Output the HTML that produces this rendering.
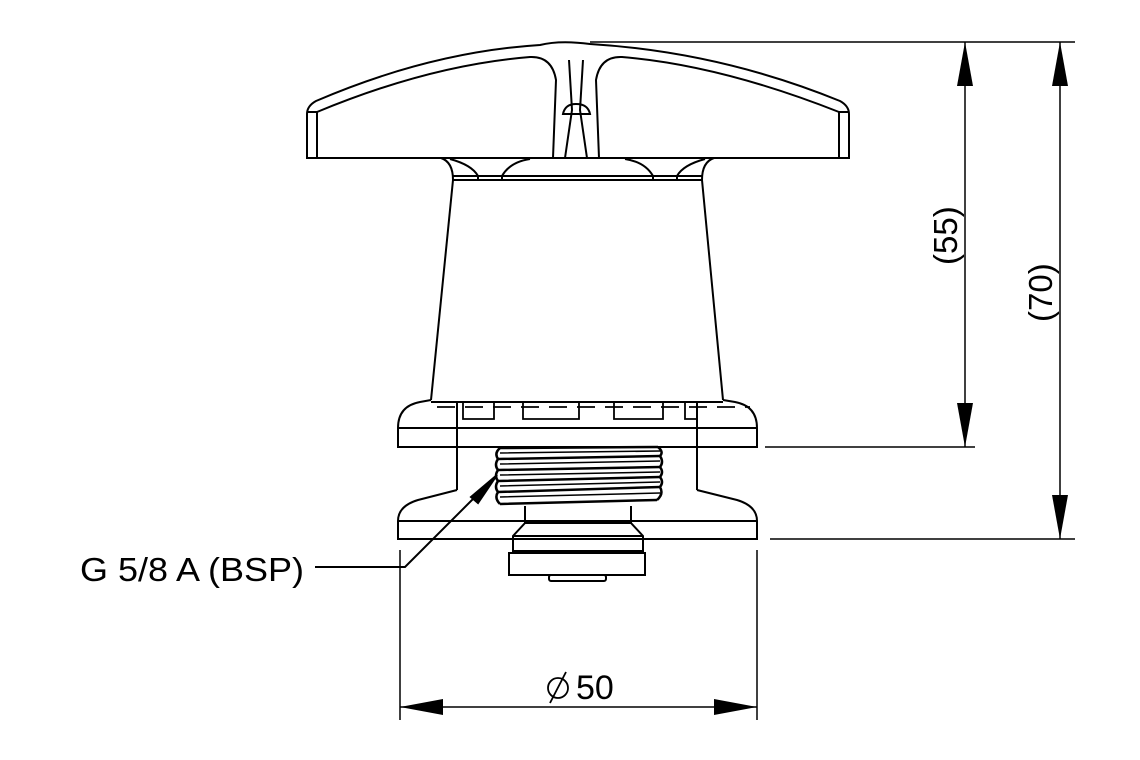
<!DOCTYPE html>
<html><head><meta charset="utf-8"><style>html,body{margin:0;padding:0;background:#fff;}svg{display:block}</style></head>
<body>
<svg width="1140" height="760" viewBox="0 0 1140 760" xmlns="http://www.w3.org/2000/svg" fill="none" stroke="#000" stroke-width="2">
<!-- knob -->
<path d="M307,158 L307,114 Q307,106 316,101 Q430,52 540,45 Q560,40 590,44 Q720,52 840,101 Q849,106 849,114 L849,158 Z" fill="#fff"/>
<path d="M317,158 L317,112 M839,158 L839,112"/>
<path d="M317,112 Q430,65 530,57 Q552,56 556,80 L553,158"/>
<path d="M839,112 Q720,65 622,57 Q600,56 596,80 L599,158"/>
<path d="M565,158 L572,110 L569,60 M587,158 L580,110 L583,60"/>
<path d="M563,114 Q565,104 576,104 Q588,104 590,114 Z"/>
<path d="M307,112 L317,112 M849,112 L839,112"/>
<!-- stem band -->
<path d="M441,158 Q453,162 453,180 L702,180 Q702,162 714,158"/>
<path d="M453,176 L702,176"/>
<path d="M450,159 Q472,165 478,176 M502,176 Q510,162 530,159 M625,159 Q645,162 653,176 M677,176 Q683,165 705,159 M478,176 L478,180 M502,176 L502,180 M653,176 L653,180 M677,176 L677,180"/>
<!-- body -->
<path d="M453,180 L431,400 M702,180 L723,400"/>
<!-- upper flange -->
<path d="M431,400 L420,402 Q398,406 398,428 L398,447 L757,447 L757,428 Q757,406 735,402 L723,400" fill="#fff"/>
<path d="M398,428 L757,428 M431,402 L723,402"/>
<path d="M463,402 L463,419 L494,419 L494,402 M523,402 L523,419 L579,419 L579,402 M614,402 L614,419 L663,419 L663,402 M685,402 L685,419 L697,419" stroke-width="1.8"/>
<path d="M437,407 L750,407 M500,428 L600,428" stroke-dasharray="18,10" stroke-width="1.8"/>
<path d="M457,402 L457,490 M697,402 L697,490"/>
<!-- lower flange -->
<path d="M457,490 L418,500 Q398,506 398,521 L398,539 L757,539 L757,521 Q757,506 737,500 L697,490"/>
<path d="M398,521 L757,521"/>
<!-- thread -->
<g stroke-width="2.5">
<path d="M500,448 L658,447 M498,459 L660,456 M498,470 L660,467 M498,481 L660,477 M498,492 L660,487 M500,504 L657,500"/>
<path d="M500,448 Q494,453 498,459 Q494,465 498,470 Q494,476 498,481 Q494,487 498,492 Q494,498 500,504 M658,447 Q664,452 660,456 Q664,462 660,467 Q664,472 660,477 Q664,482 660,487 Q664,494 657,500"/>
<path d="M500,453 L660,451 M500,464 L660,461 M500,475 L660,472 M500,486 L660,482 M500,497 L660,493" stroke-width="1.5"/>
</g>
<!-- neck / bottom -->
<path d="M525,506 L525,523 L513,536 L513,551 L643,551 L643,536 L631,523 L631,506"/>
<path d="M525,523 L631,523 M513,536 L643,536"/>
<rect x="509" y="553" width="136" height="22"/>
<rect x="549" y="575" width="57" height="6" rx="2"/>
<!-- leader -->
<path d="M315,567 L405,567 L495,477"/>
<polygon points="497,475 471,497 478,503" fill="#000"/>
<text x="80" y="581" font-family="Liberation Sans, sans-serif" font-size="33" fill="#000" stroke="none" textLength="224" lengthAdjust="spacingAndGlyphs">G 5/8 A (BSP)</text>
<!-- dims -->
<g stroke-width="1.5">
<path d="M590,42 L1075,42 M765,447 L975,447 M770,539 L1075,539 M965,42 L965,447 M1060,42 L1060,539"/>
<path d="M400,550 L400,720 M757,550 L757,720 M400,707 L757,707"/>
</g>
<g fill="#000" stroke="none">
<polygon points="965,42 957,86 973,86"/><polygon points="965,447 957,403 973,403"/>
<polygon points="1060,42 1052,86 1068,86"/><polygon points="1060,539 1052,495 1068,495"/>
<polygon points="400,707 443,699 443,715"/><polygon points="757,707 714,699 714,715"/>
</g>
<g font-family="Liberation Sans, sans-serif" font-size="33" fill="#000" stroke="none">
<text transform="translate(957,265) rotate(-90)">(55)</text>
<text transform="translate(1052,322) rotate(-90)">(70)</text>
<text x="576" y="699" font-size="34">50</text>
</g>
<g stroke-width="1.8"><circle cx="558" cy="688" r="10"/><path d="M550,703 L566,672"/></g>
</svg>
</body></html>
